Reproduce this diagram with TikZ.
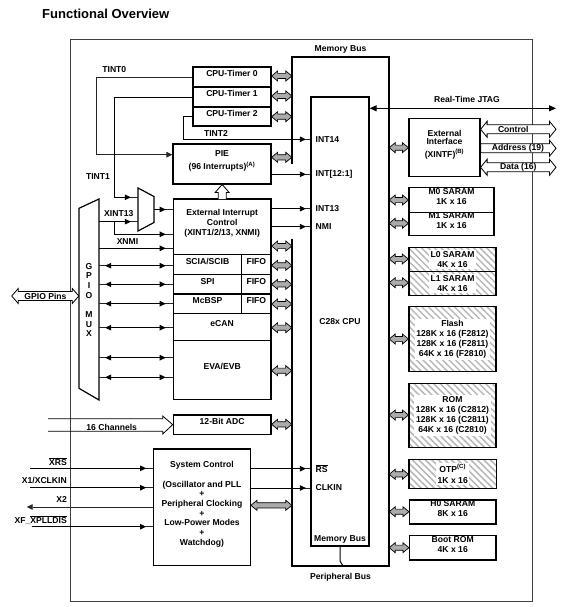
\documentclass[tikz,border=0pt]{standalone}
\usepackage{fontspec}
\setmainfont{Liberation Sans}
\usetikzlibrary{arrows.meta,fit,calc,patterns.meta}
\newcommand\ovl[1]{$\overline{\hbox{#1}}$}
\begin{document}
\begin{tikzpicture}[x=1pt,y=-1pt,
  every node/.style={font=\fontsize{8.6}{10}\selectfont\bfseries, inner sep=0pt},
  box/.style={draw=black, line width=1.2pt, inner sep=0pt, align=center},
  hatchbox/.style={box, pattern={Lines[angle=-45,distance=4.6pt,line width=1.5pt]}, pattern color=black!28},
  wt/.style={fill=white, inner sep=1.6pt, align=center},
  lbl/.style={align=center},
  sig/.style={draw=black!85, line width=0.8pt},
  tipin/.style={postaction={draw=black, -{Triangle[length=6pt,width=5.5pt]}, shorten >=#1}},
  dtip/.style 2 args={postaction={draw=black, {Triangle[length=6pt,width=5.5pt]}-{Triangle[length=6pt,width=5.5pt]}, shorten <=#1, shorten >=#2}},
  fatdbl/.style args={#1/#2/#3}{to path={let \p1=(\tikztostart),\p2=(\tikztotarget) in
     (\x1,\y1) -- ({\x1+#3},{\y1+#1}) -- ({\x1+#3},{\y1+#2}) -- ({\x2-#3},{\y1+#2}) -- ({\x2-#3},{\y1+#1}) -- (\x2,\y1)
     -- ({\x2-#3},{\y1-#1}) -- ({\x2-#3},{\y1-#2}) -- ({\x1+#3},{\y1-#2}) -- ({\x1+#3},{\y1-#1}) -- cycle}},
  fatr/.style args={#1/#2/#3}{to path={let \p1=(\tikztostart),\p2=(\tikztotarget) in
     (\x1,{\y1+#2}) -- ({\x2-#3},{\y1+#2}) -- ({\x2-#3},{\y1+#1}) -- (\x2,\y1) -- ({\x2-#3},{\y1-#1}) -- ({\x2-#3},{\y1-#2}) -- (\x1,{\y1-#2}) -- cycle}},
  fatro/.style args={#1/#2/#3}{to path={let \p1=(\tikztostart),\p2=(\tikztotarget) in
     (\x1,{\y1+#2}) -- ({\x2-#3},{\y1+#2}) -- ({\x2-#3},{\y1+#1}) -- (\x2,\y2) -- ({\x2-#3},{\y1-#1}) -- ({\x2-#3},{\y1-#2}) -- (\x1,{\y1-#2})}},
  fatup/.style args={#1/#2/#3}{to path={let \p1=(\tikztostart),\p2=(\tikztotarget) in
     ({\x1-#2},\y1) -- ({\x1-#2},{\y2-#3}) -- ({\x1-#1},{\y2-#3}) -- (\x1,\y2) -- ({\x1+#1},{\y2-#3}) -- ({\x1+#2},{\y2-#3}) -- ({\x1+#2},\y1)}},
  gbus/.style={draw=black, line width=0.7pt, fill=black!33, line join=miter, fatdbl=5pt/2.6pt/6pt},
  oarr/.style={draw=black, line width=0.8pt, fill=white, line join=miter},
  busline/.style={draw=black, line width=2.2pt, line join=miter}
]
\useasboundingbox (0,0) rectangle (584,607);

% title and frame
\node[anchor=west, font=\fontsize{13}{15}\selectfont\bfseries] (title) at (42,13.5) {Functional Overview};
\node[draw=black!75, line width=0.9pt, fit={(70,39) (532,601)}] (frame) {};

% memory bus and CPU
\node[fit={(292,57) (389,566)}] (bus) {};
\draw[busline] (bus.west |- 0,164) -- (bus.north west) -- (bus.north east) -- (bus.south east) -- (bus.south west) -- (bus.west |- 0,239);
\node (mbtop) at (340.5,49) {Memory Bus};
\node (pbus) at (340.5,577) {Peripheral Bus};
\node[box, line width=1.3pt, fit={(311,97) (369,546)}] (cpu) {};
\node (cpulbl) at (340,322) {C28x CPU};
\node (mbin) at (340,539) {Memory Bus};
\coordinate (stub) at (343,566);
\draw[line width=1pt] (cpu.south -| 340,0) -- (340,561) -- (stub);

\node[anchor=west] (int14) at (315.5,139.3) {INT14};
\node[anchor=west] (int121) at (315.5,174.3) {INT[12:1]};
\node[anchor=west] (int13) at (315.5,208.7) {INT13};
\node[anchor=west] (nmi) at (315.5,226.7) {NMI};
\node[anchor=west] (rs) at (315.5,468.7) {\ovl{RS}};
\node[anchor=west] (clkin) at (315.5,488) {CLKIN};

% timers, PIE
\node[box, fit={(193,67) (271,87)}] (t0) {CPU-Timer 0};
\node[box, fit={(193,87) (271,107)}] (t1) {CPU-Timer 1};
\node[box, fit={(193,107) (271,126)}] (t2) {CPU-Timer 2};
\node[box, fit={(173,144) (271,184)}] (pie) {PIE\\[3.5pt](96 Interrupts)\textsuperscript{(A)}};

% peripherals
\node[box, fit={(173.3,199) (271,254.3)}] (ext) {External Interrupt\\Control\\(XINT1/2/13, XNMI)};
\node[box, fit={(173.3,254.3) (241.7,274.3)}] (sci) {SCIA/SCIB};
\node[box, fit={(241.7,254.3) (271,274.3)}] (sfifo) {FIFO};
\node[box, fit={(173.3,274.3) (241.7,294)}] (spi) {SPI};
\node[box, fit={(241.7,274.3) (271,294)}] (pfifo) {FIFO};
\node[box, fit={(173.3,294) (241.7,313.3)}] (mcbsp) {McBSP};
\node[box, fit={(241.7,294) (271,313.3)}] (mfifo) {FIFO};
\node[box, fit={(173.3,313.3) (271,340.7)}] (ecan) {eCAN};
\node[box, fit={(173.3,340.7) (271,399.3)}] (eva) {EVA/EVB};
\node[box, fit={(173.3,415) (271,434.3)}] (adc) {12-Bit ADC};
\node[box, fit={(153.7,449) (250.3,565.7)}, font=\fontsize{8.6}{9.67}\selectfont\bfseries] (sys)
  {System Control\\[9.67pt](Oscillator and PLL\\+\\Peripheral Clocking\\+\\Low-Power Modes\\+\\Watchdog)};

% GPIO MUX and interrupt MUX
\node[fit={(79,199) (99,400)}] (gpio) {};
\draw[line width=1.2pt, line join=miter] (79,208.3) -- (99,199) -- (99,400) -- (79,388.3) -- cycle;
\node[font=\fontsize{8.6}{9.7}\selectfont\bfseries, align=center] (gpiolbl) at (89,300) {G\\P\\I\\O\\[9.7pt]M\\U\\X};
\node[fit={(138,188) (154,231)}] (mux) {};
\draw[line width=1.2pt, line join=miter] (138,188) -- (154,196.5) -- (154,222.5) -- (138,231) -- cycle;

% external memory / interface
\node[box, fit={(409,118.7) (480,176.7)}, font=\fontsize{8.6}{8.8}\selectfont\bfseries] (xintf) {External\\Interface\\[4pt](XINTF)\textsuperscript{(B)}};
\node[box, fit={(409,187.7) (494,212.3)}] (m0) {M0 SARAM\\1K x 16};
\node[box, fit={(409,212.3) (494,235.7)}] (m1) {M1 SARAM\\1K x 16};
\node[hatchbox, fit={(409,247.3) (496,271.7)}] (l0) {};
\node[wt] (l0t) at (l0) {L0 SARAM\\4K x 16};
\node[hatchbox, fit={(409,271.7) (496,295.3)}] (l1) {};
\node[wt] (l1t) at (l1) {L1 SARAM\\4K x 16};
\node[hatchbox, fit={(409,306.7) (496,371.7)}] (flash) {};
\node[wt] (flasht) at (flash) {Flash\\128K x 16 (F2812)\\128K x 16 (F2811)\\64K x 16 (F2810)};
\node[hatchbox, fit={(409,383.3) (496,447.7)}] (rom) {};
\node[wt] (romt) at (rom) {ROM\\128K x 16 (C2812)\\128K x 16 (C2811)\\64K x 16 (C2810)};
\node[hatchbox, fit={(409,459.3) (496.5,488.3)}] (otp) {};
\node[wt, font=\fontsize{8.6}{10.5}\selectfont\bfseries] (otpt) at (otp) {OTP\textsuperscript{(C)}\\1K x 16};
\node[box, fit={(409.5,500) (496,524)}] (h0) {H0 SARAM\\8K x 16};
\node[box, fit={(409.5,535.7) (496,560)}] (boot) {Boot ROM\\4K x 16};

% gray bus arrows, left side
\foreach \nm/\yv in {t0/76, t1/96, t2/116.7, pie/157.3, ext/246, sfifo/265.3, pfifo/284.3, mfifo/304, ecan/327.7, eva/370.7, adc/424.3, sys/505.3}
  \draw[gbus] (\nm.east |- 0,\yv) to (bus.west |- 0,\yv);
% gray bus arrows, right side
\foreach \nm/\yv in {xintf/147.7, m0/200, m1/223.3, l0/259, l1/282.7, flash/339, rom/415, otp/474.3, h0/511.7, boot/547.7}
  \draw[gbus] (bus.east |- 0,\yv) to (\nm.west |- 0,\yv);

% JTAG and external interface buses
\coordinate (jtagend) at (556,108.3);
\draw[line width=1pt, {Triangle[length=7pt,width=6pt]}-{Triangle[length=7pt,width=6pt]}] (cpu.east |- jtagend) -- (jtagend);
\node (jtag) at (467,99) {Real-Time JTAG};
\coordinate (ctlend) at (556,129.3);
\coordinate (addrend) at (556,148.3);
\coordinate (dataend) at (556,167.3);
\draw[oarr, fatdbl=8pt/4.5pt/6.5pt] (xintf.east |- ctlend) to (ctlend);
\draw[oarr, fatr=8pt/4.5pt/6.5pt] (xintf.east |- addrend) to (addrend);
\draw[oarr, fatdbl=8pt/4.5pt/6.5pt] (xintf.east |- dataend) to (dataend);
\node (ctl) at (513.3,129) {Control};
\node (addr) at (518,148.5) {Address (19)};
\node (data) at (518.3,167.3) {Data (16)};

% GPIO pins and ADC channels
\coordinate (gpiopins) at (11.7,296);
\draw[oarr, fatdbl=7.5pt/4.5pt/6.5pt] (gpiopins) to (gpio.west |- gpiopins);
\node (gpiopinslbl) at (45.5,296) {GPIO Pins};
\coordinate (chin) at (48,425);
\draw[oarr, fill=none, fatro=9pt/6.2pt/10pt] (chin) to (adc.west);
\node (chlbl) at (111.7,427) {16 Channels};

% hollow arrow ExtInt -> PIE
\draw[oarr, fatup=7pt/4pt/8pt] (ext.north |- 0,199) to (pie.south |- 0,184.5);

% timer interrupts
\draw[sig, -{Triangle[length=6pt,width=5.5pt]}] (t0.west) -| (96,154.7) -- (pie.west |- 0,154.7);
\node (tint0) at (114.3,69.3) {TINT0};
\draw[sig, tipin=7pt] (t1.west) -| (114.5,197.3) -- (mux.west |- 0,197.3);
\node (tint1) at (98,176.7) {TINT1};
\draw[sig, tipin=4.5pt] (t2.west) -| (183.7,139.3) -- (cpu.west |- 0,139.3);
\node (tint2) at (216,133.5) {TINT2};

% external interrupts
\coordinate (xb) at (114.5,221.7);
\draw[sig, tipin=7pt] (gpio.east |- xb) -- (mux.west |- xb);
\draw[sig, tipin=7pt] (xb) |- (ext.west |- 0,234.3);
\node (xint13) at (118.8,213.3) {XINT13};
\draw[sig, tipin=7pt] (mux.east |- 0,209.5) -- (ext.west |- 0,209.5);
\draw[sig, tipin=7pt] (gpio.east |- 0,248.3) -- (ext.west |- 0,248.3);
\node (xnmi) at (127.5,242) {XNMI};

% to CPU
\draw[sig, tipin=4.5pt] (pie.east |- 0,174.3) -- (cpu.west |- 0,174.3);
\draw[sig, tipin=4.5pt] (ext.east |- 0,208.7) -- (cpu.west |- 0,208.7);
\draw[sig, tipin=4.5pt] (ext.east |- 0,226.7) -- (cpu.west |- 0,226.7);
\draw[sig, tipin=4.5pt] (sys.east |- 0,468.7) -- (cpu.west |- 0,468.7);
\draw[sig, tipin=4.5pt] (sys.east |- 0,488) -- (cpu.west |- 0,488);

% GPIO <-> peripherals
\draw[sig, dtip={6pt}{7pt}] (gpio.east |- 0,265.7) -- (sci.west |- 0,265.7);
\draw[sig, dtip={6pt}{7pt}] (gpio.east |- 0,284.3) -- (spi.west |- 0,284.3);
\draw[sig, dtip={6pt}{7pt}] (gpio.east |- 0,303.7) -- (mcbsp.west |- 0,303.7);
\draw[sig, dtip={6pt}{7pt}] (gpio.east |- 0,327.7) -- (ecan.west |- 0,327.7);
\draw[sig, dtip={6pt}{7pt}] (gpio.east |- 0,357.7) -- (eva.west |- 0,357.7);
\draw[sig, dtip={6pt}{7pt}] (gpio.east |- 0,377.3) -- (eva.west |- 0,377.3);

% system control pins
\coordinate (xrsin) at (30,468.3);
\coordinate (x1in) at (30,487.7);
\coordinate (x2out) at (26.7,507);
\coordinate (xfin) at (31.7,526.7);
\draw[sig, tipin=7pt] (xrsin) -- (sys.west |- xrsin);
\draw[sig, tipin=7pt] (x1in) -- (sys.west |- x1in);
\draw[sig, -{Triangle[length=6pt,width=5.5pt]}] (sys.west |- x2out) -- (x2out);
\draw[sig, tipin=7pt] (xfin) -- (sys.west |- xfin);
\node[anchor=east] (xrslbl) at (67,461.3) {\ovl{XRS}};
\node[anchor=east] (x1lbl) at (67,480.7) {X1/XCLKIN};
\node[anchor=east] (x2lbl) at (67,499.3) {X2};
\node[anchor=east] (xflbl) at (67,520) {XF\_\ovl{XPLLDIS}};
\end{tikzpicture}
\end{document}
